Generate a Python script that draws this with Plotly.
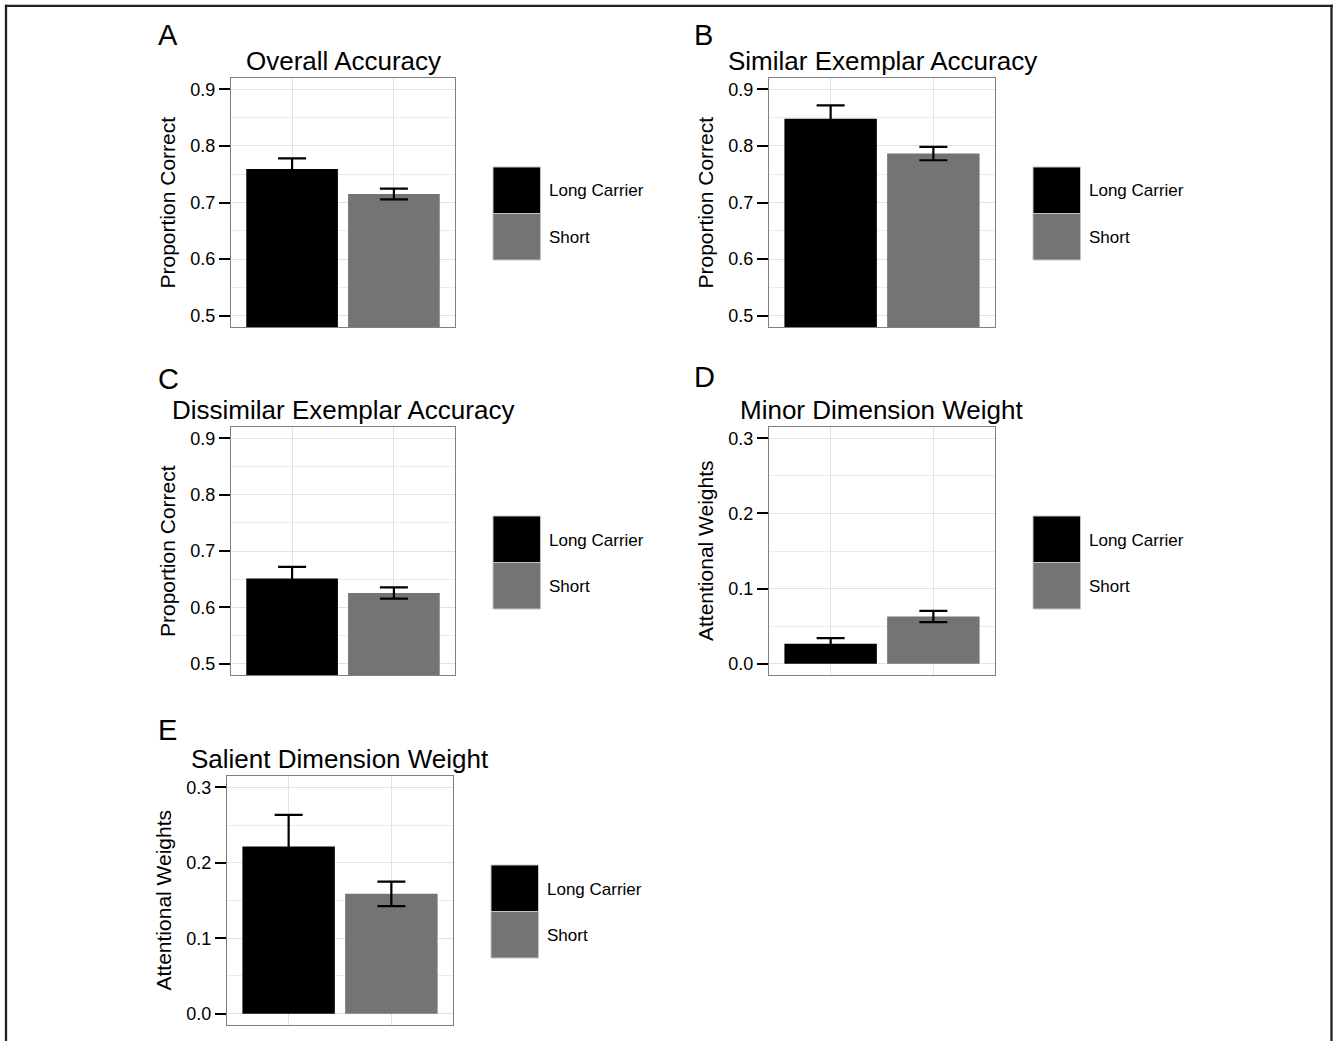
import plotly.graph_objects as go

# ---------------- data ----------------
categories = ["Long Carrier", "Short"]
bar_colors = ["#000000", "#747474"]

overall_acc = [0.759, 0.715]
overall_se = [0.019, 0.0096]

similar_acc = [0.848, 0.7865]
similar_se = [0.0235, 0.0118]

dissimilar_acc = [0.651, 0.6255]
dissimilar_se = [0.021, 0.0100]

minor_weight = [0.0265, 0.0628]
minor_se = [0.0075, 0.0075]

salient_weight = [0.2216, 0.1588]
salient_se = [0.042, 0.0162]

acc_ticks = [0.5, 0.6, 0.7, 0.8, 0.9]
weight_ticks = [0.0, 0.1, 0.2, 0.3]

panel_letters = ["A", "B", "C", "D", "E"]
panel_titles = ["Overall Accuracy", "Similar Exemplar Accuracy", "Dissimilar Exemplar Accuracy",
                "Minor Dimension Weight", "Salient Dimension Weight"]
y_titles = ["Proportion Correct", "Proportion Correct", "Proportion Correct",
            "Attentional Weights", "Attentional Weights"]

# ---------------- layout helpers ----------------
W, H = 1333, 1041
FONT = "Liberation Sans, Arial, Helvetica, sans-serif"


def px(x):
    return x / W


def py(y):
    return 1 - y / H


# plot areas in pixels: (left, top, right, bottom)
boxes = [
    (231, 78, 455, 327),
    (769, 78, 995, 327),
    (231, 427, 455, 675),
    (769, 427, 995, 675),
    (227, 776, 453, 1025),
]
letter_pos = [(156, 35), (692, 35), (156, 379), (692, 377), (156, 730)]

values = [overall_acc, similar_acc, dissimilar_acc, minor_weight, salient_weight]
errors = [overall_se, similar_se, dissimilar_se, minor_se, salient_se]
ranges = [[0.48, 0.92]] * 3 + [[-0.015, 0.315]] * 2
ticks = [acc_ticks] * 3 + [weight_ticks] * 2

fig = go.Figure()
annotations = []
shapes = []

for i in range(5):
    n = "" if i == 0 else str(i + 1)
    l, t, r, b = boxes[i]
    fig.add_trace(go.Bar(
        x=categories, y=values[i],
        marker=dict(color=bar_colors, line=dict(width=0)),
        width=0.9,
        error_y=dict(type="data", array=errors[i], visible=True,
                     color="#000000", thickness=2.2, width=14),
        xaxis="x" + n, yaxis="y" + n, showlegend=False,
    ))
    fig.update_layout(**{
        "xaxis" + n: dict(
            domain=[px(l), px(r)], anchor="y" + n,
            type="category", range=[-0.6, 1.6],
            showticklabels=False, ticks="",
            showgrid=True, gridcolor="#E2E2E2", gridwidth=1.2,
            showline=True, mirror=True, linecolor="#808080", linewidth=1,
            zeroline=False, fixedrange=True,
        ),
        "yaxis" + n: dict(
            domain=[py(b), py(t)], anchor="x" + n,
            range=ranges[i], tickvals=ticks[i], tickformat=".1f",
            ticks="outside", ticklen=11, tickwidth=2.2, tickcolor="#000000",
            tickfont=dict(family=FONT, size=18, color="#000000"),
            showgrid=True, gridcolor="#E2E2E2", gridwidth=1.2,
            minor=dict(dtick=0.05, tick0=0, showgrid=True, gridcolor="#ECECEC", gridwidth=1.2),
            showline=True, mirror=True, linecolor="#808080", linewidth=1,
            zeroline=False, fixedrange=True,
        ),
    })

    # panel letter
    lx, ly = letter_pos[i]
    annotations.append(dict(text=panel_letters[i], x=px(lx), y=py(ly), xref="paper", yref="paper",
                            xanchor="left", yanchor="middle", showarrow=False,
                            font=dict(family=FONT, size=29, color="#000000")))
    # panel title
    annotations.append(dict(text=panel_titles[i], x=px((l + r) / 2), y=py(t - 17), xref="paper", yref="paper",
                            xanchor="center", yanchor="middle", showarrow=False,
                            font=dict(family=FONT, size=26, color="#000000")))
    # y axis title
    annotations.append(dict(text=y_titles[i], x=px(l - 64), y=py((t + b) / 2), xref="paper", yref="paper",
                            xanchor="center", yanchor="middle", textangle=-90, showarrow=False,
                            font=dict(family=FONT, size=21, color="#000000")))
    # legend keys and labels
    for k in range(2):
        k0 = t + 89 + k * 46.5
        shapes.append(dict(type="rect", xref="paper", yref="paper",
                           x0=px(r + 38), x1=px(r + 85.5), y0=py(k0), y1=py(k0 + 46.5),
                           fillcolor=bar_colors[k], line=dict(color="#C4C4C4", width=1)))
        annotations.append(dict(text=categories[k], x=px(r + 91.5), y=py(k0 + 24),
                                xref="paper", yref="paper", xanchor="left", yanchor="middle",
                                showarrow=False, font=dict(family=FONT, size=17, color="#000000")))

# outer frame (top, left, right)
frame_col = "#231F20"
shapes.append(dict(type="line", xref="paper", yref="paper", x0=px(5), x1=px(1333), y0=py(5.8), y1=py(5.8),
                   line=dict(color=frame_col, width=2.3)))
shapes.append(dict(type="line", xref="paper", yref="paper", x0=px(6), x1=px(6), y0=py(4.7), y1=py(1041),
                   line=dict(color=frame_col, width=2.3)))
shapes.append(dict(type="line", xref="paper", yref="paper", x0=px(1331.5), x1=px(1331.5), y0=py(4.7), y1=py(1041),
                   line=dict(color=frame_col, width=2.3)))

fig.update_layout(
    width=W, height=H,
    margin=dict(l=0, r=0, t=0, b=0),
    paper_bgcolor="#FFFFFF", plot_bgcolor="#FFFFFF",
    annotations=annotations, shapes=shapes,
    bargap=0.1, showlegend=False,
    font=dict(family=FONT, color="#000000"),
)

fig.write_html("out.html", config={"displayModeBar": False},
               post_script="document.body.style.margin='0';document.body.style.overflow='hidden';")
